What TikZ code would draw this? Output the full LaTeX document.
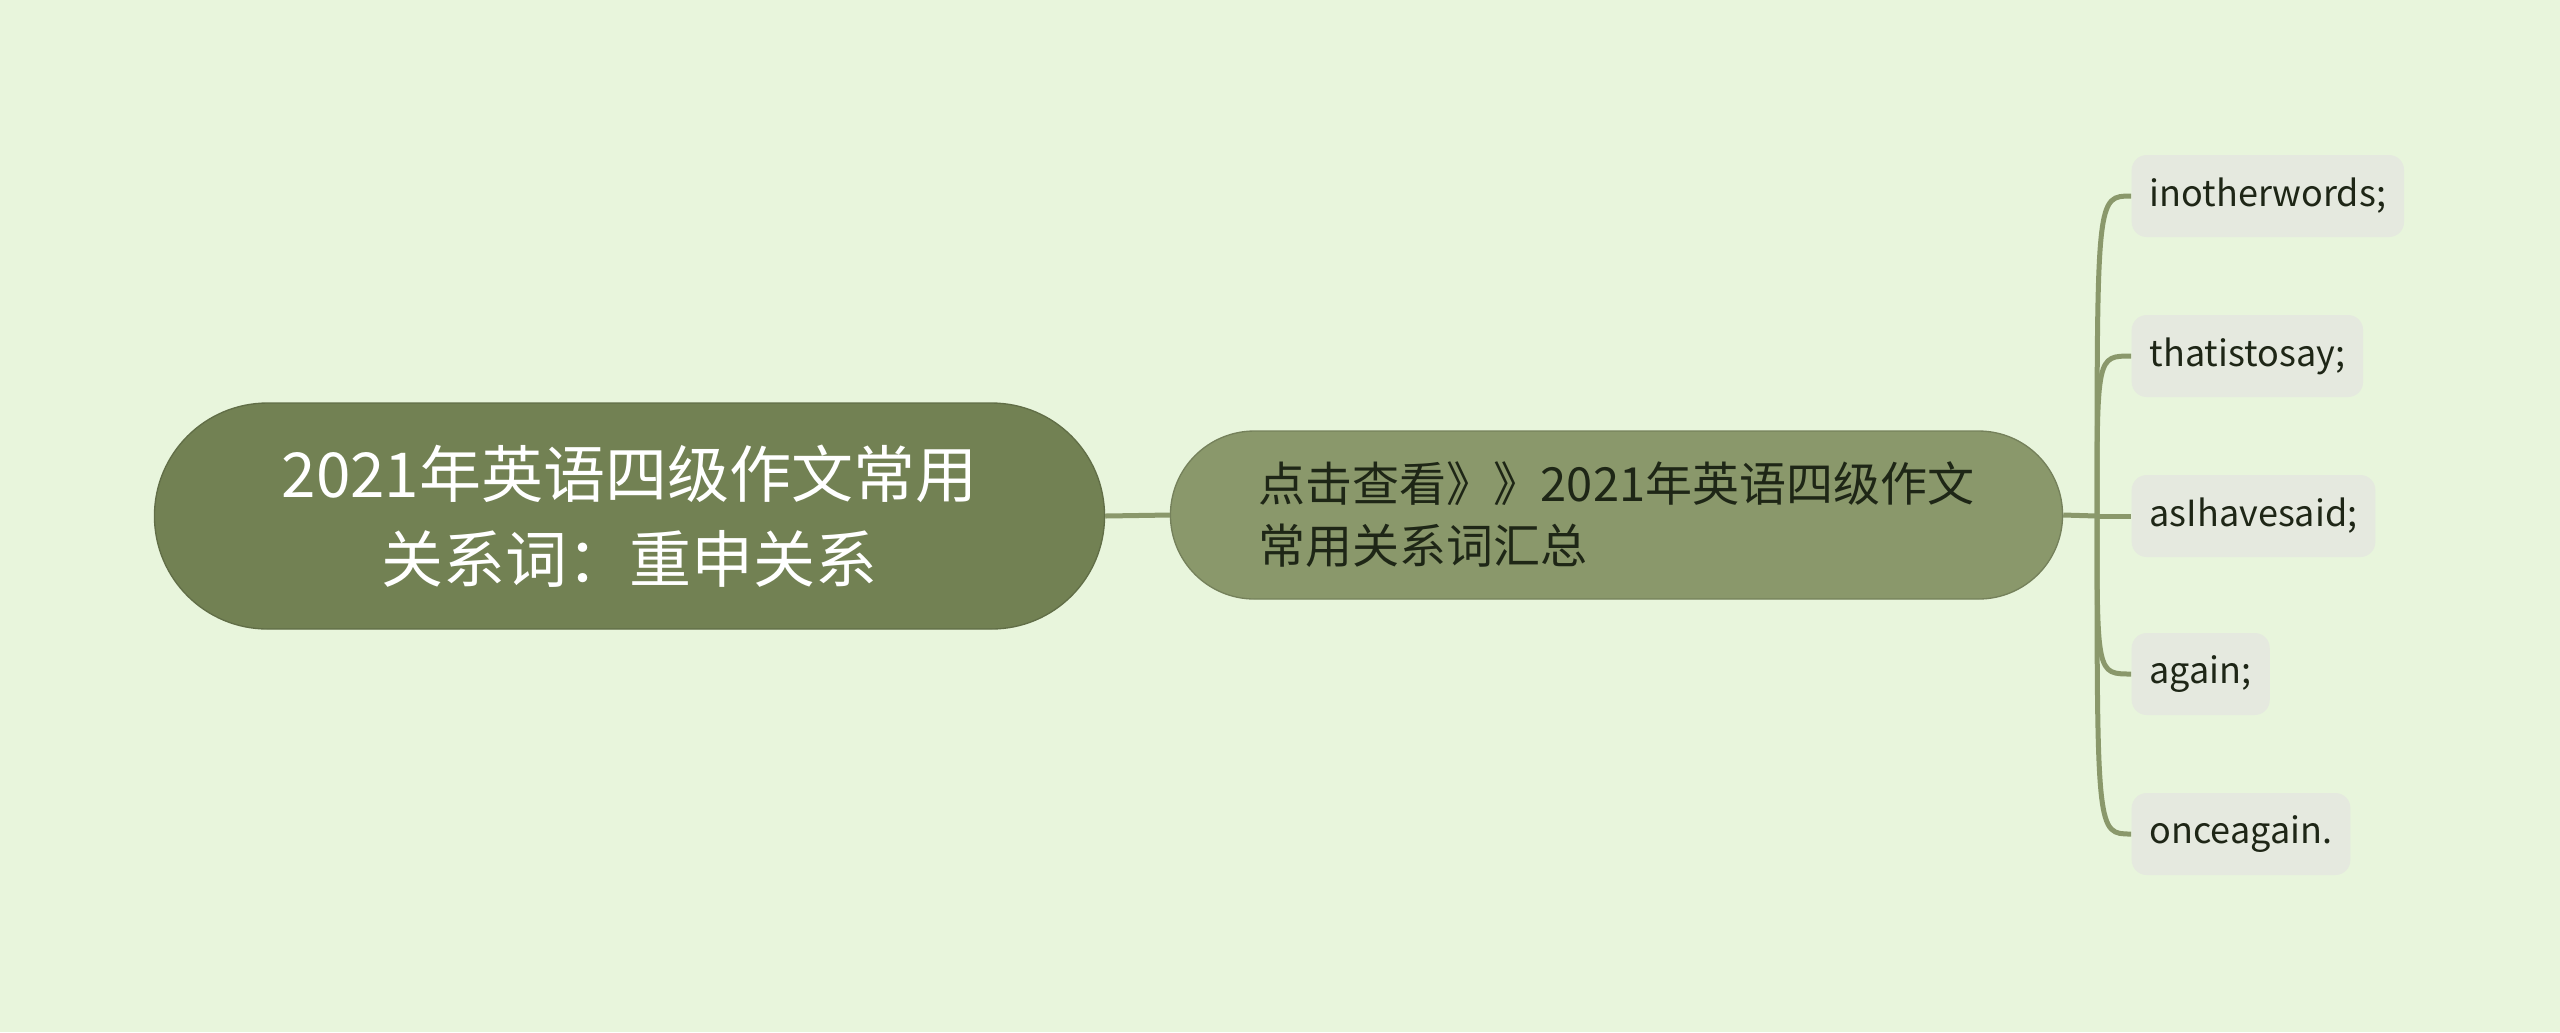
\documentclass[tikz,border=0pt]{standalone}
\usepackage{fontspec}
\setmainfont{Noto Sans CJK SC}
\usetikzlibrary{shapes.misc}
\usetikzlibrary{calc}
\definecolor{hintergrund}{RGB}{232,245,220}
\definecolor{wurzel}{RGB}{114,129,83}
\definecolor{zweig}{RGB}{138,152,107}
\definecolor{blatt}{RGB}{229,233,223}
\definecolor{linie}{RGB}{138,152,107}
\definecolor{schrift}{RGB}{30,38,22}

\begin{document}
\begin{tikzpicture}[x=0.3pt,y=-0.3pt,
	ast/.style={draw=linie, line width=1.5pt},
	leaf/.style={anchor=west, fill=blatt, rounded corners=4.5pt, minimum height=24.6pt, inner xsep=5.4pt, text=schrift, font=\fontsize{10.8}{13}\selectfont}]
	\fill[hintergrund] (0,0) rectangle (2560,1032);
	\node[rounded rectangle, fill=wurzel, draw=wurzel!85!black, minimum width=291.7pt, minimum height=67.8pt, text=white, font=\fontsize{18.6}{25.5}\selectfont, align=center] (R) at (629.5,516) {2021年英语四级作文常用\\关系词：重申关系};
	\node[rounded rectangle, fill=zweig, draw=zweig!85!black, minimum width=274.3pt, minimum height=50.4pt, text=schrift, font=\fontsize{14.1}{18.6}\selectfont, align=left] (S) at (1616.5,515) {点击查看》》2021年英语四级作文\\常用关系词汇总};
	\draw[ast] (R.east) -- (S.west);
	
	\node[leaf] (L1) at (2131,196) {inotherwords;};
	\node[leaf] (L2) at (2131,356) {thatistosay;};
	\node[leaf] (L3) at (2131,516) {asIhavesaid;};
	\node[leaf] (L4) at (2131,674) {again;};
	\node[leaf] (L5) at (2131,834) {onceagain.};
	\coordinate (J) at (2097,516);
	\draw[ast] (S.east) -- (J);
	\draw[ast] (J) .. controls (J |- L1.west) .. (L1.west);
	\draw[ast] (J) .. controls (J |- L2.west) .. (L2.west);
	\draw[ast] (J) -- (L3.west);
	\draw[ast] (J) .. controls (J |- L4.west) .. (L4.west);
	\draw[ast] (J) .. controls (J |- L5.west) .. (L5.west);
\end{tikzpicture}
\end{document}
